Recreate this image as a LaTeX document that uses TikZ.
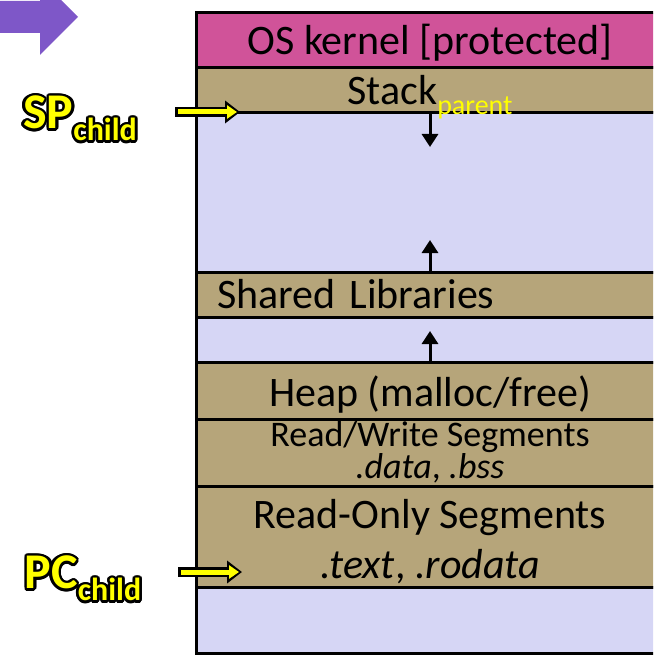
\documentclass[tikz,border=0pt]{standalone}
\usepackage{fontspec}
\setmainfont{Carlito}
\usepackage[copies]{contour}
\usepackage{tikz}
\usetikzlibrary{positioning, arrows.meta}
\definecolor{kernelpink}{HTML}{D05399}
\definecolor{segtan}{HTML}{B6A57A}
\definecolor{freelav}{HTML}{D6D6F5}
\definecolor{slidepurple}{HTML}{7E57C8}
\definecolor{ptryellow}{HTML}{FFFF00}
\contourlength{2.6pt}

\tikzset{
  seg/.style={draw=black, line width=3pt, minimum width=468pt,
              inner xsep=0pt, inner ysep=0pt, outer sep=0pt,
              font=\fontsize{42}{50}\selectfont, align=center},
  segtext/.style={inner sep=0pt, font=\fontsize{42}{50}\selectfont},
  growarrow/.style={line width=3pt, -{Triangle[width=16pt,length=13pt]}},
  ptrlabel/.style={text=ptryellow, inner sep=0pt,
                   font=\bfseries\fontsize{50}{50}\selectfont},
  ptrshadow/.style={draw=black, line width=10pt, -{Triangle[width=22pt,length=15pt]}},
  ptrarrow/.style={draw=ptryellow, line width=5pt, shorten <=3pt, shorten >=3pt,
                   -{Triangle[width=13pt,length=10pt]}},
}

\begin{document}
\begin{tikzpicture}[x=1pt, y=-1pt]
  \useasboundingbox (0,0) rectangle (653,655);
  \clip (0,0) rectangle (653,655);

  % slide arrow, cut off at the corner
  \fill[slidepurple] (0,1) -- (40,1) -- (40,-21) -- (78,17) -- (40,55)
    -- (40,33) -- (0,33) -- cycle;

  % address space, top to bottom
  \node[seg, fill=kernelpink, minimum height=55pt, text height=42pt, text depth=13pt]
    (kernel) at (430,40.5) {OS kernel [protected]};
  \node[seg, fill=segtan, minimum height=45pt, below=0pt of kernel] (stack) {};
  \node[seg, fill=freelav, minimum height=159pt, below=0pt of stack] (free1) {};
  \node[seg, fill=segtan, minimum height=45pt, text width=426pt, inner xsep=21pt,
        align=left, below=0pt of free1] (shlib) {Shared Libraries};
  \node[seg, fill=freelav, minimum height=45pt, below=0pt of shlib] (free2) {};
  \node[seg, fill=segtan, minimum height=57pt, text height=44pt, text depth=13pt,
        below=0pt of free2] (heap) {Heap (malloc/free)};
  \node[seg, fill=segtan, minimum height=67pt, font=\fontsize{36}{32}\selectfont,
        below=0pt of heap] (rwseg)
    {Read/Write Segments\\\textit{.data}, \textit{.bss}};
  \node[seg, fill=segtan, minimum height=101pt, below=0pt of rwseg] (roseg)
    {\rule{0pt}{40pt}Read-Only Segments\\\textit{.text}, \textit{.rodata}};
  \node[seg, fill=freelav, minimum height=66pt, below=0pt of roseg] (free3) {};

  % stack label sits over the line below it
  \node[segtext, anchor=base] (stacktxt) at ([yshift=8pt]stack.south)
    {Stack{\color{ptryellow}\fontsize{28}{28}\selectfont\raisebox{-10pt}{parent}}};

  % growth directions
  \coordinate (stacktip) at ([yshift=-34pt]stack.south);
  \coordinate (libtip) at ([yshift=32pt]shlib.north);
  \coordinate (heaptip) at ([yshift=31pt]heap.north);
  \draw[growarrow] (stack.south) -- (stacktip);
  \draw[growarrow] (shlib.north) -- (libtip);
  \draw[growarrow] (heap.north) -- (heaptip);

  % child registers
  \node[ptrlabel] (spchild) at (80,120)
    {\contour{black}{SP\raisebox{-12pt}{\fontsize{32}{32}\selectfont child}}};
  \node[ptrlabel] (pcchild) at (83,580)
    {\contour{black}{PC\raisebox{-12pt}{\fontsize{32}{32}\selectfont child}}};

  \coordinate (spstart) at (175,112);
  \coordinate (spend) at (240,112);
  \coordinate (pcstart) at (178,572);
  \coordinate (pcend) at (242,572);
  \draw[ptrshadow] (spstart) -- (spend);
  \draw[ptrarrow] (spstart) -- (spend);
  \draw[ptrshadow] (pcstart) -- (pcend);
  \draw[ptrarrow] (pcstart) -- (pcend);
\end{tikzpicture}
\end{document}
